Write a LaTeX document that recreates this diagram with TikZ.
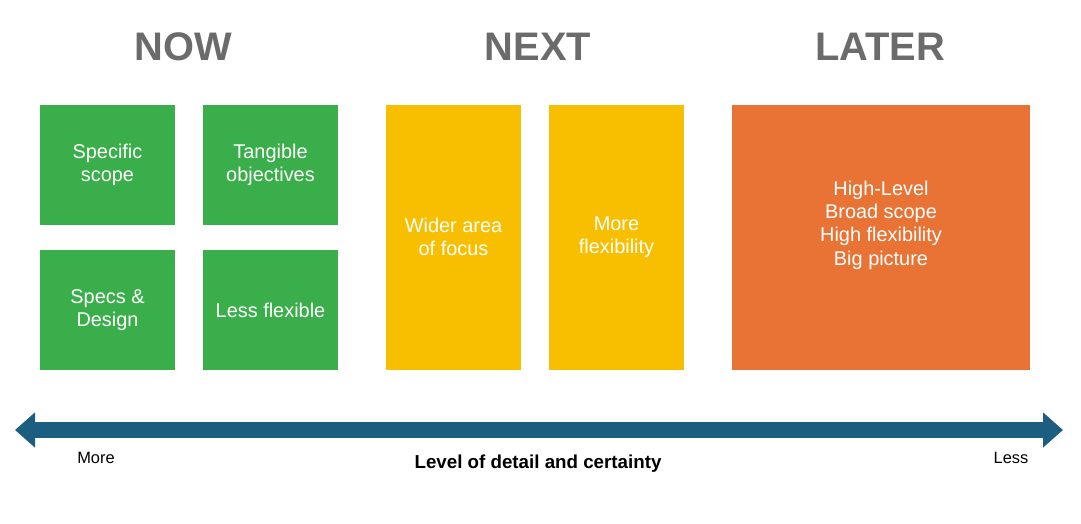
\documentclass[tikz,border=0pt]{standalone}
\usepackage{fontspec}
\setmainfont{Liberation Sans}
\usetikzlibrary{arrows.meta}
\definecolor{gr}{HTML}{3AAE4A}
\definecolor{ye}{HTML}{F8BF00}
\definecolor{orn}{HTML}{E87334}
\definecolor{ttl}{HTML}{6B6B6B}
\definecolor{ar}{HTML}{1B5E80}
\begin{document}
\begin{tikzpicture}[x=0.03cm,y=-0.03cm,
  box/.style={inner sep=0pt,text=white,font=\fontsize{17}{20}\selectfont,align=center},
  ttlstyle/.style={text=ttl,font=\fontsize{34}{40}\selectfont\bfseries},
  small/.style={font=\fontsize{14}{16}\selectfont}]
\useasboundingbox (0,0) rectangle (1081,523);
\node[ttlstyle] (now) at (183,47) {NOW};
\node[ttlstyle] (next) at (538,47) {NEXT};
\node[ttlstyle] (later) at (880,47) {LATER};
\fill[gr] (40,105) rectangle (175,225);
\node[box] (b1) at (107.5,165) {Specific\\scope};
\fill[gr] (203,105) rectangle (338,225);
\node[box] (b2) at (270.5,165) {Tangible\\objectives};
\fill[gr] (40,250) rectangle (175,370);
\node[box] (b3) at (107.5,310) {Specs \&\\Design};
\fill[gr] (203,250) rectangle (338,370);
\node[box] (b4) at (270.5,310) {Less flexible};
\fill[ye] (386,105) rectangle (521,370);
\node[box] (b5) at (453.5,237) {Wider area\\of focus};
\fill[ye] (549,105) rectangle (684,370);
\node[box] (b6) at (616.5,237) {More\\flexibility};
\fill[orn] (732,105) rectangle (1030,370);
\node[box] (b7) at (881,225) {High-Level\\Broad scope\\High flexibility\\Big picture};
\coordinate (l) at (15,430);
\coordinate (r) at (1063,430);
\draw[ar,line width=16*0.03cm,{Triangle[width=34*0.03cm,length=20*0.03cm]}-{Triangle[width=34*0.03cm,length=20*0.03cm]}] (l) -- (r);
\node[small] (more) at (96,458) {More};
\node[small] (less) at (1011,458) {Less};
\node[font=\fontsize{16}{19}\selectfont\bfseries] (lab) at (538,464) {Level of detail and certainty};
\end{tikzpicture}
\end{document}
